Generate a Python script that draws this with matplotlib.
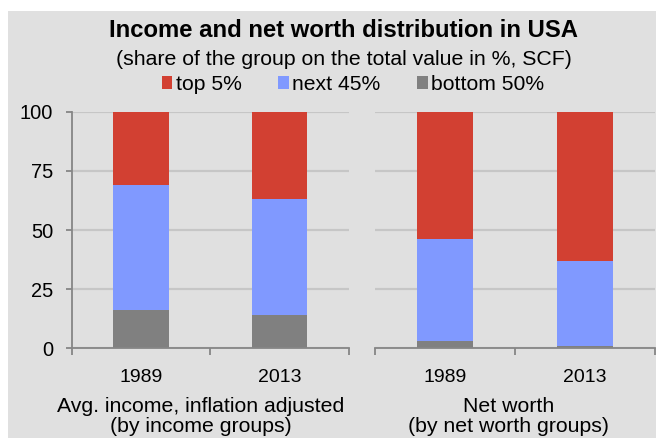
import matplotlib
matplotlib.use("Agg")
import matplotlib.pyplot as plt
from matplotlib.patches import Rectangle
from matplotlib.transforms import blended_transform_factory

plt.rcParams['font.family'] = ['Liberation Sans', 'DejaVu Sans']

# Shares of the total value in %, SCF
years = ['1989', '2013']
income_bottom50 = [16, 14]
income_next45 = [53, 49]
income_top5 = [31, 37]
worth_bottom50 = [3, 1]
worth_next45 = [43, 36]
worth_top5 = [54, 63]

series_labels = ['top 5%', 'next 45%', 'bottom 50%']
c_top = '#D24032'
c_next = '#8099FF'
c_bottom = '#808080'
axis_col = '#868686'
grid_col = '#C6C6C6'

W, H = 656, 438


def fx(x):
    return x / W


def fy(y):
    return 1 - y / H


fig = plt.figure(figsize=(W / 100, H / 100), dpi=100)
fig.patch.set_facecolor('white')
fig.patches.append(Rectangle((fx(8), 0), 1, fy(11), transform=fig.transFigure,
                             facecolor='#E0E0E0', edgecolor='none', zorder=-10))

ax1 = fig.add_axes([fx(72), fy(348.3), fx(276.5), (348.3 - 111.7) / H])
ax2 = fig.add_axes([fx(375), fy(348.3), fx(280), (348.3 - 111.7) / H])


def stack(ax, bottom, nxt, top):
    x = range(len(years))
    b1 = ax.bar(x, bottom, width=0.4, color=c_bottom, zorder=2)
    mid = bottom
    b2 = ax.bar(x, nxt, width=0.4, bottom=mid, color=c_next, zorder=2)
    mid = [a + b for a, b in zip(bottom, nxt)]
    b3 = ax.bar(x, top, width=0.4, bottom=mid, color=c_top, zorder=2)
    return b3, b2, b1


handles = stack(ax1, income_bottom50, income_next45, income_top5)
stack(ax2, worth_bottom50, worth_next45, worth_top5)

for ax in (ax1, ax2):
    ax.set_facecolor('none')
    ax.set_xlim(-0.5, 1.5)
    ax.set_ylim(0, 100)
    ax.set_yticks([0, 25, 50, 75, 100])
    ax.yaxis.grid(True, color=grid_col, linewidth=1.6)
    ax.set_axisbelow(True)
    ax.set_xticks([-0.5, 0.5, 1.5])
    ax.set_xticklabels([])
    ax.tick_params(axis='x', direction='out', length=4.7, width=1.3, color=axis_col)
    for s in ('top', 'right'):
        ax.spines[s].set_visible(False)
    ax.spines['bottom'].set_color(axis_col)
    ax.spines['bottom'].set_linewidth(1.3)
    tr = blended_transform_factory(ax.transData, fig.transFigure)
    for i, yr in enumerate(years):
        ax.text(i, fy(381.7), yr, transform=tr, ha='center', va='baseline', fontsize=14)

ax1.spines['left'].set_color(axis_col)
ax1.spines['left'].set_linewidth(1.3)
ax1.tick_params(axis='y', direction='out', length=4, width=1.3, color=axis_col,
                labelsize=14.4, pad=9.5)
ax2.spines['left'].set_visible(False)
ax2.tick_params(axis='y', left=False, labelleft=False)

# Group captions under the axes
fig.text(fx(201), fy(411.7), 'Avg. income, inflation adjusted', ha='center', va='baseline', fontsize=15.3)
fig.text(fx(201), fy(432), '(by income groups)', ha='center', va='baseline', fontsize=15.3)
fig.text(fx(509), fy(411.7), 'Net worth', ha='center', va='baseline', fontsize=15.3)
fig.text(fx(509), fy(432), '(by net worth groups)', ha='center', va='baseline', fontsize=15.3)

fig.text(fx(343.5), fy(37), 'Income and net worth distribution in USA', ha='center',
         va='baseline', fontsize=17.2, fontweight='bold')
fig.text(fx(343.5), fy(65), '(share of the group on the total value in %, SCF)', ha='center',
         va='baseline', fontsize=15.3)

fig.legend(handles, series_labels, loc='center', bbox_to_anchor=(fx(353), fy(84.5)), ncol=3,
           frameon=False, fontsize=15.2, handlelength=0.5, handleheight=0.5,
           handletextpad=0.15, columnspacing=1.75, borderpad=0, borderaxespad=0)

fig.savefig('out.png', dpi=100)
